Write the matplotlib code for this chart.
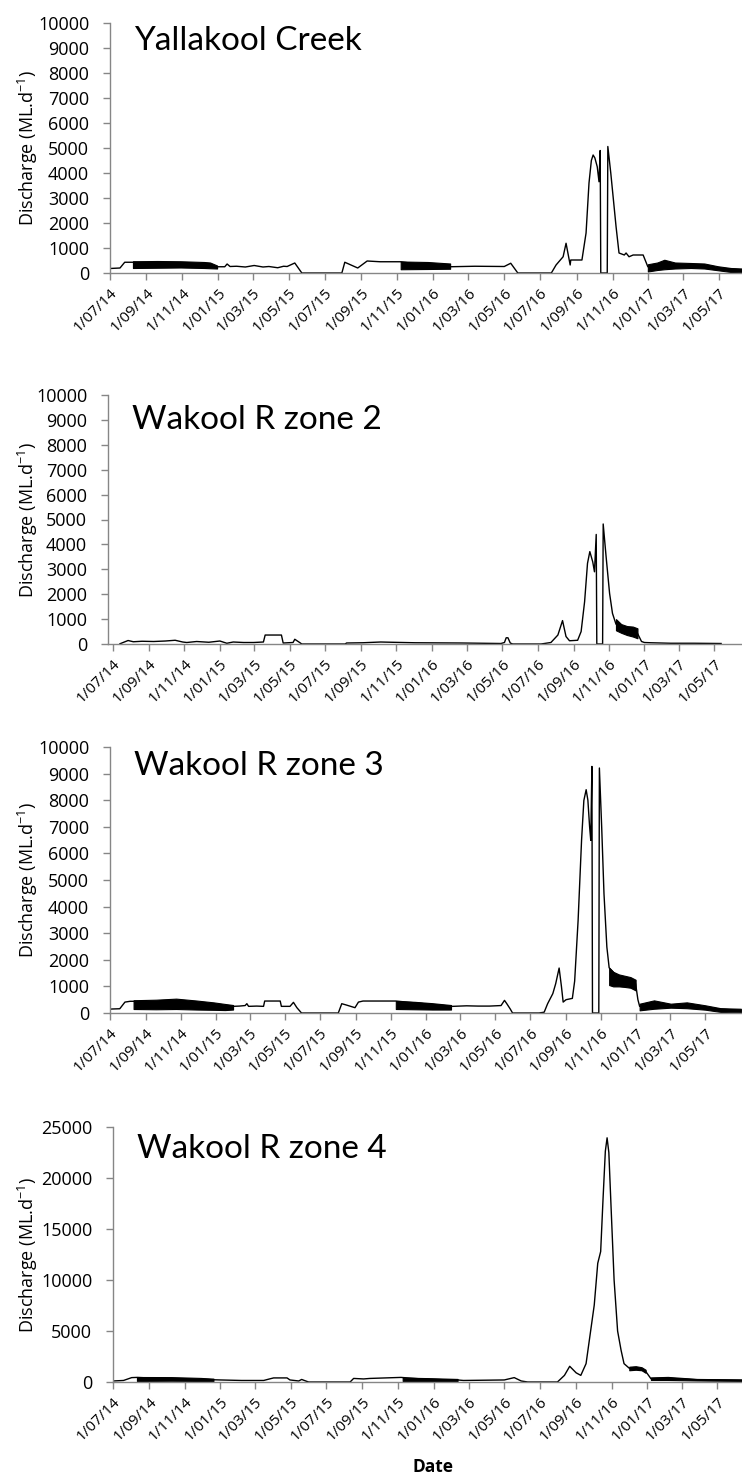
import numpy as np
import pandas as pd
import matplotlib
matplotlib.use('Agg')
import matplotlib.pyplot as plt
import matplotlib.dates as mdates

# days counted from 1 July 2014, flows in ML/d
start = pd.Timestamp('2014-07-01')

# ---- Yallakool Creek
yal_day = [0, 17, 25, 39, 100, 182, 195, 199, 204, 215, 230, 245, 260, 270, 285, 295, 301, 314, 326,
           394, 399, 421, 437, 459, 494, 540, 578, 620, 670, 681, 693, 750, 758, 770, 775, 782, 783,
           802, 809, 814, 818, 821, 824, 828, 831, 833, 834, 845, 846, 851, 860, 865, 874, 877, 882,
           889, 906, 914, 960, 1030, 1074]
yal_flow = [180, 200, 430, 430, 330, 250, 250, 360, 260, 270, 240, 300, 240, 260, 210, 270, 260, 400, 0,
            0, 430, 200, 480, 450, 450, 300, 250, 270, 260, 390, 0, 0, 320, 650, 1190, 320, 520,
            520, 1600, 3600, 4500, 4720, 4600, 4250, 3650, 4900, 0, 0, 5060, 4000, 1850, 800, 720, 800, 650,
            720, 720, 250, 300, 200, 120]
yal_band_day = [[39, 80, 120, 160, 170, 182], [494, 540, 578],
                [914, 930, 942, 960, 987, 1010, 1033, 1055, 1074]]
yal_band_lo = [[200, 210, 220, 200, 190, 180], [150, 160, 170],
               [60, 120, 150, 180, 200, 180, 110, 40, 30]]
yal_band_hi = [[470, 480, 470, 440, 420, 300], [460, 440, 380],
               [350, 420, 530, 420, 400, 380, 270, 200, 180]]

# ---- Wakool R zone 2
wz2_day = [12, 26, 35, 50, 70, 90, 107, 120, 127, 144, 165, 184, 196, 207, 225, 242, 259, 262, 290,
           293, 310, 313, 322, 325, 400, 402, 430, 461, 479, 520, 600, 668, 674, 677, 680, 684, 688,
           737, 754, 766, 774, 780, 786, 800, 806, 812, 817, 821, 826, 829, 832, 833, 843, 844, 849,
           855, 860, 866, 875, 885, 895, 903, 910, 915, 926, 960, 1000, 1047]
wz2_flow = [10, 140, 90, 110, 100, 120, 150, 80, 60, 100, 70, 120, 30, 80, 60, 60, 80, 360, 360,
            40, 60, 190, 50, 0, 0, 40, 50, 80, 70, 50, 40, 20, 60, 250, 250, 40, 0,
            0, 60, 360, 940, 300, 130, 150, 500, 1700, 3240, 3710, 3300, 2900, 4400, 0, 0, 4820, 3510,
            2035, 1230, 800, 620, 540, 500, 430, 100, 60, 50, 30, 30, 20]
wz2_band_day = [[866, 875, 885, 895, 903]]
wz2_band_lo = [[550, 450, 360, 300, 230]]
wz2_band_hi = [[1000, 800, 720, 700, 630]]

# ---- Wakool R zone 3
wz3_day = [0, 3, 17, 26, 35, 41, 120, 214, 225, 235, 238, 241, 255, 267, 269, 296, 298, 313, 319,
           325, 333, 397, 403, 411, 426, 432, 440, 454, 497, 593, 596, 620, 640, 660, 680, 686, 690,
           696, 700, 746, 755, 761, 770, 775, 781, 785, 788, 793, 804, 808, 814, 820, 824, 828, 831,
           834, 836, 838, 839, 850, 851, 855, 859, 864, 868, 890, 914, 918, 921, 960, 1030, 1097]
wz3_flow = [140, 150, 160, 410, 440, 440, 330, 250, 260, 280, 350, 250, 260, 250, 450, 450, 250, 250, 400,
            200, 0, 0, 350, 300, 200, 410, 450, 450, 450, 250, 250, 270, 260, 260, 280, 475, 350,
            150, 0, 0, 30, 350, 727, 1100, 1690, 1000, 410, 500, 550, 1200, 3480, 6490, 7990, 8395, 8000,
            7000, 6490, 9270, 0, 0, 9210, 6990, 4485, 2480, 1700, 1200, 1100, 500, 250, 280, 200, 90]
wz3_band_day = [[41, 80, 115, 150, 180, 200, 214], [497, 530, 560, 593],
                [868, 875, 885, 895, 905, 914], [921, 946, 975, 1003, 1035, 1062, 1097]]
wz3_band_lo = [[150, 140, 150, 130, 120, 110, 130], [150, 140, 130, 130],
               [1050, 1000, 1000, 980, 950, 850], [100, 160, 200, 180, 125, 40, 20]]
wz3_band_hi = [[480, 500, 540, 470, 400, 340, 300], [450, 420, 370, 300],
               [1700, 1550, 1450, 1400, 1350, 1250], [350, 475, 350, 400, 290, 180, 160]]

# ---- Wakool R zone 4
wz4_day = [0, 18, 32, 41, 100, 172, 184, 220, 258, 268, 275, 298, 303, 318, 323, 330, 335, 406,
           412, 429, 440, 493, 540, 590, 600, 670, 687, 699, 710, 761, 773, 782, 793, 801, 810, 818,
           824, 830, 835, 839, 843, 846, 849, 853, 858, 864, 870, 875, 884, 898, 912, 921, 950, 1000, 1077]
wz4_flow = [100, 150, 430, 450, 300, 220, 200, 150, 150, 300, 400, 400, 200, 100, 250, 100, 0, 0,
            350, 300, 350, 450, 250, 200, 150, 200, 430, 100, 0, 0, 650, 1540, 900, 650, 1800, 5080,
            7540, 11640, 12790, 17870, 22625, 23940, 22500, 16890, 10000, 5000, 3100, 1800, 1350, 1350, 1050, 330, 350, 220, 170]
wz4_band_day = [[41, 100, 150, 172], [496, 540, 590], [884, 895, 905, 912], [921, 950, 1000, 1077]]
wz4_band_lo = [[100, 120, 100, 100], [100, 100, 100], [1150, 1200, 1150, 900], [200, 200, 150, 100]]
wz4_band_hi = [[490, 480, 400, 330], [430, 380, 300], [1500, 1550, 1450, 1200], [450, 500, 300, 250]]

titles = ['Yallakool Creek', 'Wakool R zone 2', 'Wakool R zone 3', 'Wakool R zone 4']
tick_dates = pd.date_range('2014-07-01', '2017-05-01', freq='2MS')
tick_labels = [d.strftime('1/%m/%y') for d in tick_dates]

W, H = 742, 1481
fig = plt.figure(figsize=(W / 100, H / 100), dpi=100)

# pixel boxes: left, top, bottom, xmin(day), xmax(day), ymax, ystep, title baseline
panels = [
    (yal_day, yal_flow, yal_band_day, yal_band_lo, yal_band_hi, 110, 23, 273, 0, 1074, 10000, 1000, 50),
    (wz2_day, wz2_flow, wz2_band_day, wz2_band_lo, wz2_band_hi, 108, 395, 644, -8.6, 1083, 10000, 1000, 429),
    (wz3_day, wz3_flow, wz3_band_day, wz3_band_lo, wz3_band_hi, 110, 747, 1013, 0, 1099, 10000, 1000, 775),
    (wz4_day, wz4_flow, wz4_band_day, wz4_band_lo, wz4_band_hi, 113, 1127, 1382, 0, 1077, 25000, 5000, 1158),
]

x0 = mdates.date2num(start)
grey = '#868686'

for i, (day, flow, bday, blo, bhi, l, t, b, xmin, xmax, ymax, ystep, tb) in enumerate(panels):
    ax = fig.add_axes([l / W, 1 - b / H, (W - l) / W, (b - t) / H])
    ax.plot(x0 + np.array(day), flow, color='black', lw=1.0)
    for d, lo, hi in zip(bday, blo, bhi):
        ax.fill_between(x0 + np.array(d), lo, hi, color='black', lw=0.8, edgecolor='black')
    ax.set_xlim(x0 + xmin, x0 + xmax)
    ax.set_ylim(0, ymax)
    ax.set_yticks(np.arange(0, ymax + 1, ystep))
    ax.set_xticks(mdates.date2num(tick_dates))
    ax.set_xticklabels(tick_labels, rotation=45, ha='right', rotation_mode='anchor',
                       fontsize=11, family='Open Sans')
    for lab in ax.get_yticklabels():
        lab.set_fontsize(13)
        lab.set_family('Open Sans')
    for s in ['top', 'right']:
        ax.spines[s].set_visible(False)
    for s in ['left', 'bottom']:
        ax.spines[s].set_color(grey)
        ax.spines[s].set_linewidth(1.0)
    ax.tick_params(direction='out', length=5, width=1.0, color=grey)
    ax.tick_params(axis='y', pad=10)
    ax.tick_params(axis='x', pad=4)
    fig.text((l + 24) / W, 1 - tb / H, titles[i], fontsize=24, family='Lato', va='baseline')
    fig.text(28 / W, 1 - (t + b) / 2 / H, r'Discharge (ML.d$^{\mathregular{-1}}$)', rotation=90,
             ha='center', va='center', fontsize=13, family='Open Sans')

fig.text(433 / W, 1 - 1467 / H, 'Date', ha='center', va='center', fontsize=12.5,
         family='Open Sans', weight='bold')

plt.savefig('out.png', dpi=100)
